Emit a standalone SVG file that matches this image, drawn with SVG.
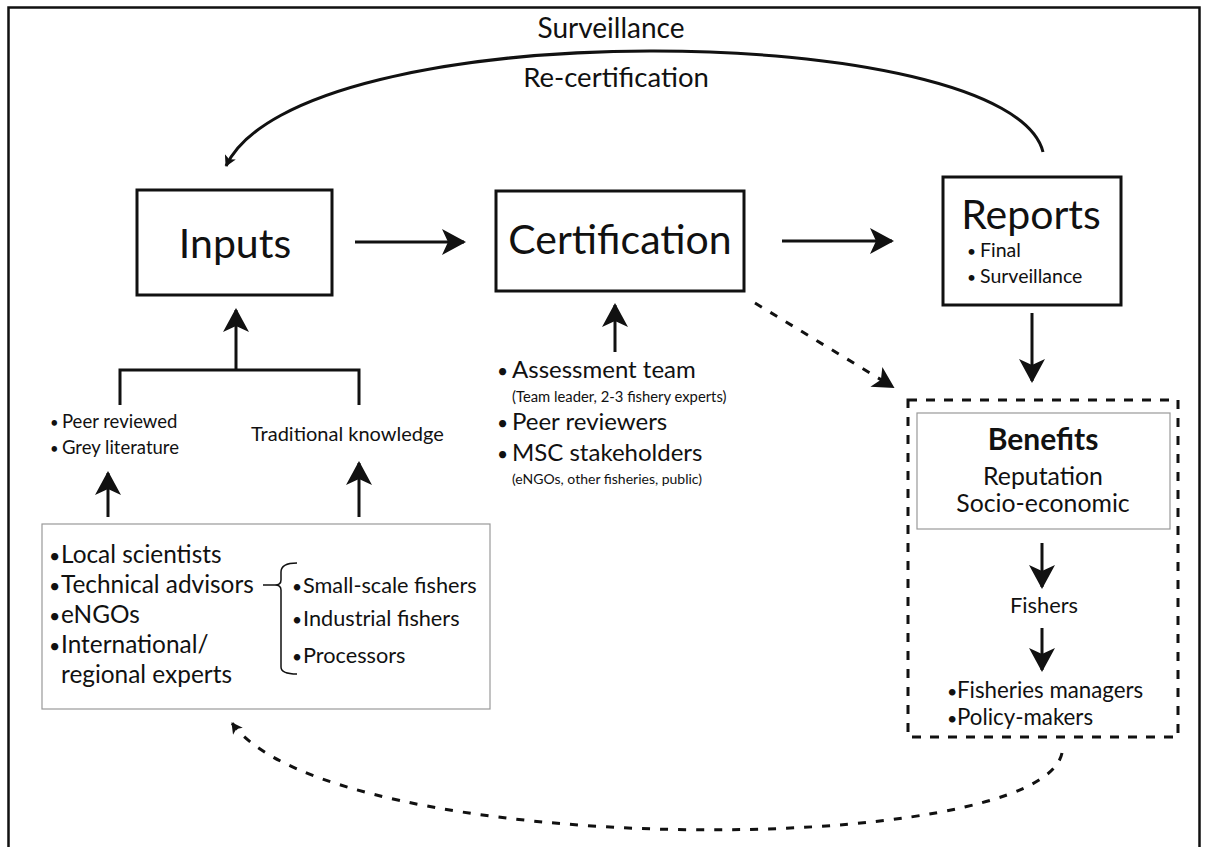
<svg xmlns="http://www.w3.org/2000/svg" width="1205" height="847" viewBox="0 0 1205 847">
<style>
text{font-family:Lato,"Open Sans","Liberation Sans",sans-serif;fill:#111}
.box{fill:#fff;stroke:#111;stroke-width:3}
.thin{fill:#fff;stroke:#999;stroke-width:1.2}
.ln{fill:none;stroke:#111;stroke-width:3}
.c{text-anchor:middle}
.b{font-size:0.8em}
</style>
<defs>
<marker id="ah" viewBox="0 0 24 26" refX="22" refY="13" markerWidth="24" markerHeight="26" markerUnits="userSpaceOnUse" orient="auto">
<path d="M0,0 L24,13 L0,26 L6,13 z" fill="#111"/>
</marker>
<marker id="ahs" viewBox="0 0 24 26" refX="22" refY="13" markerWidth="22" markerHeight="23" markerUnits="userSpaceOnUse" orient="auto">
<path d="M0,0 L24,13 L0,26 L6,13 z" fill="#111"/>
</marker>
<marker id="aht" viewBox="0 0 24 26" refX="22" refY="13" markerWidth="12" markerHeight="12" markerUnits="userSpaceOnUse" orient="auto">
<path d="M0,0 L24,13 L0,26 L6,13 z" fill="#111"/>
</marker>
</defs>
<rect x="8.5" y="7.5" width="1191" height="870" fill="#fff" stroke="#111" stroke-width="2.5"/>

<g id="connectors">
<path class="ln" d="M1043,152 C1010,20 300,10 226,166" stroke-width="1.5" marker-end="url(#aht)"/>
<text class="c" x="611" y="38" font-size="28">Surveillance</text>
<text class="c" x="616" y="87" font-size="27.5">Re-certification</text>
<line class="ln" x1="355" y1="242" x2="464" y2="242" marker-end="url(#ah)"/>
<line class="ln" x1="782" y1="241" x2="892" y2="241" marker-end="url(#ah)"/>
<line class="ln" x1="1032" y1="313" x2="1032" y2="381" marker-end="url(#ah)"/>
<line class="ln" x1="236" y1="370" x2="236" y2="310" marker-end="url(#ah)"/>
<polyline class="ln" points="120,405 120,370 359,370 359,405"/>
<line class="ln" x1="108" y1="517" x2="108" y2="473" marker-end="url(#ah)"/>
<line class="ln" x1="359" y1="517" x2="359" y2="463" marker-end="url(#ah)"/>
<line class="ln" x1="615" y1="352" x2="615" y2="305" marker-end="url(#ah)"/>
<path class="ln" d="M755,303 L893,387" stroke-dasharray="8 10" marker-end="url(#ahs)"/>
<path class="ln" d="M1062,753 C1040,860 330,860 232,723" stroke-width="1.6" stroke-dasharray="8 10" marker-end="url(#aht)"/>
</g>

<g id="inputs">
<rect class="box" x="137" y="190" width="195" height="105"/>
<text class="c" x="235" y="258" font-size="41">Inputs</text>
</g>

<g id="certification">
<rect class="box" x="496" y="191" width="248" height="100"/>
<text class="c" x="620" y="254" font-size="41">Certification</text>
</g>

<g id="reports">
<rect class="box" x="943" y="177" width="178" height="128"/>
<text class="c" x="1031" y="229" font-size="41">Reports</text>
<text font-size="19.5"><tspan class="b" x="967" y="257">•</tspan><tspan x="980" y="257">Final</tspan></text>
<text font-size="19.5"><tspan class="b" x="967" y="283">•</tspan><tspan x="980" y="283">Surveillance</tspan></text>
</g>

<g id="literature">
<text font-size="18.5"><tspan class="b" x="50" y="428">•</tspan><tspan x="62" y="428">Peer reviewed</tspan></text>
<text font-size="18.5"><tspan class="b" x="50" y="454">•</tspan><tspan x="62" y="454">Grey literature</tspan></text>
<text x="251" y="441" font-size="20">Traditional knowledge</text>
</g>

<g id="sources">
<rect class="thin" x="42" y="524" width="448" height="185"/>
<text font-size="24.4"><tspan class="b" x="49" y="563">•</tspan><tspan x="61" y="563">Local scientists</tspan></text>
<text font-size="24.4"><tspan class="b" x="49" y="593">•</tspan><tspan x="61" y="593">Technical advisors</tspan></text>
<text font-size="24.4"><tspan class="b" x="49" y="623">•</tspan><tspan x="61" y="623">eNGOs</tspan></text>
<text font-size="24.4"><tspan class="b" x="49" y="653">•</tspan><tspan x="61" y="653">International/</tspan></text>
<text x="61" y="683" font-size="24.4">regional experts</text>
<line x1="263" y1="585" x2="275" y2="585" stroke="#111" stroke-width="1.5"/>
<path d="M297,563 Q281,563 281,572 L281,580 Q281,585 275,585 Q281,585 281,590 L281,667 Q281,674 297,674" fill="none" stroke="#111" stroke-width="1.5"/>
<text font-size="21.7"><tspan class="b" x="292" y="593">•</tspan><tspan x="303" y="593">Small-scale fishers</tspan></text>
<text font-size="21.7"><tspan class="b" x="292" y="626">•</tspan><tspan x="303" y="626">Industrial fishers</tspan></text>
<text font-size="21.7"><tspan class="b" x="292" y="663">•</tspan><tspan x="303" y="663">Processors</tspan></text>
</g>

<g id="assessors">
<text font-size="24"><tspan class="b" x="497" y="378">•</tspan><tspan x="512" y="378">Assessment team</tspan></text>
<text x="512" y="402" font-size="14.8">(Team leader, 2-3 fishery experts)</text>
<text font-size="24"><tspan class="b" x="497" y="430">•</tspan><tspan x="512" y="430">Peer reviewers</tspan></text>
<text font-size="24"><tspan class="b" x="497" y="461">•</tspan><tspan x="512" y="461">MSC stakeholders</tspan></text>
<text x="512" y="484" font-size="14">(eNGOs, other fisheries, public)</text>
</g>

<g id="benefits">
<rect x="908" y="400" width="270" height="337" fill="none" stroke="#111" stroke-width="3" stroke-dasharray="9 9"/>
<rect class="thin" x="917" y="413" width="253" height="116" stroke="#666"/>
<text class="c" x="1043" y="450" font-size="30" font-weight="bold">Benefits</text>
<text class="c" x="1043" y="485" font-size="24.8">Reputation</text>
<text class="c" x="1043" y="512" font-size="24.8">Socio-economic</text>
<line class="ln" x1="1042" y1="543" x2="1042" y2="587" stroke-width="2.5" marker-end="url(#ah)"/>
<text class="c" x="1044" y="613" font-size="21.8">Fishers</text>
<line class="ln" x1="1042" y1="628" x2="1042" y2="670" stroke-width="2.5" marker-end="url(#ah)"/>
<text font-size="22.3"><tspan class="b" x="947" y="698">•</tspan><tspan x="957" y="698">Fisheries managers</tspan></text>
<text font-size="22.3"><tspan class="b" x="947" y="725">•</tspan><tspan x="957" y="725">Policy-makers</tspan></text>
</g>
</svg>
